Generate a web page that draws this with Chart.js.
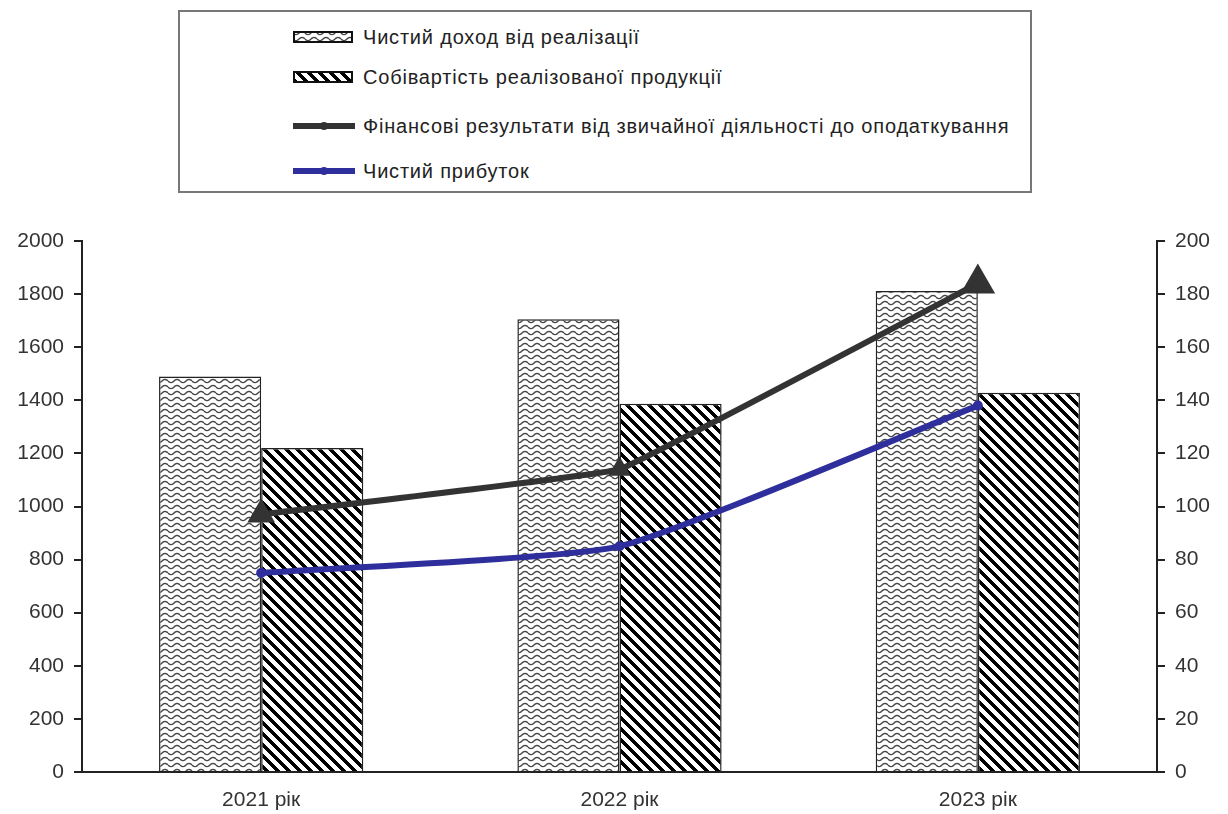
<!DOCTYPE html>
<html>
<head>
<meta charset="utf-8">
<script src="https://cdn.jsdelivr.net/npm/chart.js@4/dist/chart.umd.min.js"></script>
<style>
  body { margin: 0; background: #fff; }
  #wrap { position: relative; width: 1228px; height: 814px; }
  #legend {
    position: absolute; left: 178px; top: 10px; width: 854px; height: 183px;
    box-sizing: border-box; border: 2px solid #777; background: #fff;
    font-family: "Liberation Sans", Arial, sans-serif; font-size: 20px; letter-spacing: 0.8px; color: #222;
  }
  .item { position: absolute; left: 113px; height: 24px; display: flex; align-items: center; white-space: nowrap; }
  .item canvas { margin-right: 8px; }
</style>
</head>
<body>
<div id="wrap">
  <canvas id="chart" width="1228" height="814"></canvas>
  <div id="legend"></div>
</div>
<script>
const years = ['2021 рік', '2022 рік', '2023 рік'];
const revenue = [1490, 1705, 1812];
const cost = [1220, 1387, 1428];
const preTaxResult = [97, 114, 184];
const netProfit = [75, 85, 138];

const seriesNames = [
  'Чистий доход від реалізації',
  'Собівартість  реалізованої продукції',
  'Фінансові результати від звичайної діяльності до оподаткування',
  'Чистий прибуток'
];

// wavy texture for revenue bars
const makeWaves = () => {
  const tile = document.createElement('canvas');
  tile.width = 12; tile.height = 6;
  const c = tile.getContext('2d');
  c.fillStyle = '#fff';
  c.fillRect(0, 0, 12, 6);
  c.strokeStyle = '#444';
  c.lineWidth = 1.4;
  c.beginPath();
  for (let x = 0; x <= 12; x++) {
    const y = 3 + 1.6 * Math.sin(x / 12 * Math.PI * 2);
    x == 0 ? c.moveTo(x, y) : c.lineTo(x, y);
  }
  c.stroke();
  return c.createPattern(tile, 'repeat');
};

// "\" stripes for cost bars
const makeStripes = () => {
  const n = 11;
  const tile = document.createElement('canvas');
  tile.width = n; tile.height = n;
  const c = tile.getContext('2d');
  const img = c.createImageData(n, n);
  for (let y = 0; y < n; y++) {
    for (let x = 0; x < n; x++) {
      const d = ((x - y) % n + n) % n;
      const v = d < 5 ? 0 : 255;
      const i = (y * n + x) * 4;
      img.data[i] = v; img.data[i + 1] = v; img.data[i + 2] = v; img.data[i + 3] = 255;
    }
  }
  c.putImageData(img, 0, 0);
  return c.createPattern(tile, 'repeat');
};

const wavePattern = makeWaves();
const stripePattern = makeStripes();

const tickFont = { family: '"Liberation Sans", Arial, sans-serif', size: 21 };
const plain = (v) => String(v);

const chart = new Chart(document.getElementById('chart'), {
  data: {
    labels: years,
    datasets: [
      {
        type: 'line', label: seriesNames[2], data: preTaxResult, yAxisID: 'y1', order: 0,
        borderColor: '#333', backgroundColor: '#333', borderWidth: 6,
        pointStyle: 'triangle', pointRadius: [10, 7, 14], tension: 0.05
      },
      {
        type: 'line', label: seriesNames[3], data: netProfit, yAxisID: 'y1', order: 0,
        borderColor: '#2e2e9c', backgroundColor: '#2e2e9c', borderWidth: 6,
        pointStyle: 'circle', pointRadius: 2, tension: 0.15
      },
      {
        type: 'bar', label: seriesNames[0], data: revenue, yAxisID: 'y', order: 1,
        backgroundColor: wavePattern, borderColor: '#222', borderWidth: 1.5,
        barPercentage: 1, categoryPercentage: 0.57
      },
      {
        type: 'bar', label: seriesNames[1], data: cost, yAxisID: 'y', order: 1,
        backgroundColor: stripePattern, borderColor: '#222', borderWidth: 1.5,
        barPercentage: 1, categoryPercentage: 0.57
      }
    ]
  },
  options: {
    responsive: false,
    animation: false,
    layout: { padding: { top: 241, right: 0, left: 0, bottom: 0 } },
    plugins: { legend: { display: false }, tooltip: { enabled: false } },
    scales: {
      x: {
        offset: true,
        grid: { display: true, drawOnChartArea: false, drawTicks: false },
        border: { color: '#222', width: 2 },
        ticks: { font: tickFont, color: '#333', padding: 16 },
        afterFit: (scale) => { scale.height = 42; }
      },
      y: {
        position: 'left', min: 0, max: 2000,
        ticks: { stepSize: 200, font: tickFont, color: '#333', padding: 10, callback: plain },
        grid: { drawOnChartArea: false, tickLength: 8, color: '#222', lineWidth: 2 },
        border: { color: '#222', width: 2 },
        afterFit: (scale) => { scale.width = 82; }
      },
      y1: {
        position: 'right', min: 0, max: 200,
        ticks: { stepSize: 20, font: tickFont, color: '#333', padding: 10, callback: plain },
        grid: { drawOnChartArea: false, tickLength: 8, color: '#222', lineWidth: 2 },
        border: { color: '#222', width: 2 },
        afterFit: (scale) => { scale.width = 71; }
      }
    }
  }
});

// html legend, built from the chart's datasets
const legendOrder = [2, 3, 0, 1];
const rowTops = [13, 53, 102, 147];
const legend = document.getElementById('legend');
legendOrder.forEach((idx, row) => {
  const ds = chart.data.datasets[idx];
  const item = document.createElement('div');
  item.className = 'item';
  item.style.top = rowTops[row] + 'px';
  const sw = document.createElement('canvas');
  sw.width = 62; sw.height = 14;
  const c = sw.getContext('2d');
  if (ds.type == 'bar') {
    c.fillStyle = ds.backgroundColor;
    c.fillRect(1, 2, 58, 10);
    c.strokeStyle = '#111';
    c.lineWidth = 2;
    c.strokeRect(1, 2, 58, 10);
  } else {
    c.strokeStyle = ds.borderColor;
    c.lineWidth = 6;
    c.beginPath();
    c.moveTo(0, 7); c.lineTo(62, 7);
    c.stroke();
    c.fillStyle = ds.borderColor;
    c.beginPath();
    c.arc(31, 7, 4, 0, Math.PI * 2);
    c.fill();
  }
  item.appendChild(sw);
  const span = document.createElement('span');
  span.textContent = ds.label;
  item.appendChild(span);
  legend.appendChild(item);
});
</script>
</body>
</html>
